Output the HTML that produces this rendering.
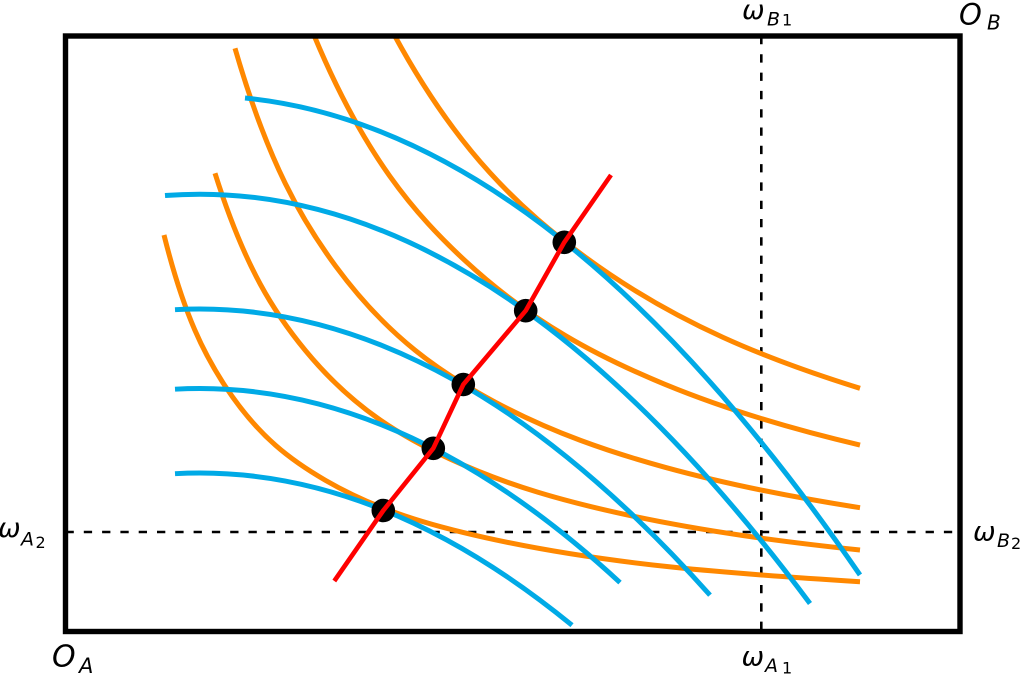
<!DOCTYPE html>
<html>
<head>
<meta charset="utf-8">
<style>
  html, body { margin: 0; padding: 0; background: #ffffff; }
  body { width: 1022px; height: 674px; overflow: hidden; }
  svg { display: block; }
  .it { font-family: "DejaVu Sans", "Liberation Sans", sans-serif; font-style: italic; fill: #000; }
  .rm { font-family: "DejaVu Sans", "Liberation Sans", sans-serif; font-style: normal; fill: #000; }
</style>
</head>
<body>
<svg width="1022" height="674" viewBox="0 0 1022 674" xmlns="http://www.w3.org/2000/svg">
  <rect x="0" y="0" width="1022" height="674" fill="#ffffff"/>

  <!-- dashed reference lines -->
  <line x1="761.3" y1="36" x2="761.3" y2="631.5" stroke="#000" stroke-width="2.6" stroke-dasharray="8.3 10"/>
  <line x1="65.5" y1="532" x2="960" y2="532" stroke="#000" stroke-width="2.6" stroke-dasharray="8.3 10"/>

  <!-- orange indifference curves (A) -->
  <g fill="none" stroke="#FF8800" stroke-width="5">
    <path d="M164,235 C184.5,317.01 205,355.48 225.5,386.66 C258.83,437.35 292.17,461.13 325.5,480.38 C378.83,511.19 432.17,525.83 485.5,537.67 C610.33,565.39 735.17,573.92 860,581.7"/>
    <path d="M215,173.3 C245.17,268.9 275.33,314.13 305.5,350.63 C353.83,409.12 402.17,436.83 450.5,459.2 C508.83,486.19 567.17,501.94 625.5,514.54 C703.67,531.42 781.83,541.74 860,550.03"/>
    <path d="M235,48.3 C268.5,163.93 302,220.42 335.5,265.92 C388.83,338.36 442.17,373.78 495.5,402.3 C552.17,432.6 608.83,451.86 665.5,467.41 C730.33,485.2 795.17,497.58 860,507.71"/>
    <path d="M314.3,36 C364.7,156.63 415.1,214.43 465.5,261.1 C532.17,322.83 598.83,357.13 665.5,384.57 C730.33,411.25 795.17,429.8 860,445.02"/>
    <path d="M394.3,35 C458.03,152.59 521.77,210.6 585.5,257.25 C677,324.22 768.5,359.83 860,388.31"/>
  </g>

  <!-- blue indifference curves (B) -->
  <g fill="none" stroke="#00AAE6" stroke-width="5">
    <path d="M245,98.03 Q552.5,128.47 860,574.96"/>
    <path d="M165,195.55 Q487.5,170.72 810,603.51"/>
    <path d="M175,309.69 Q442.5,294.98 710,595.11"/>
    <path d="M175,389.19 Q397.5,376.95 620,582.54"/>
    <path d="M175,473.69 Q373.5,462.77 572,625.22"/>
  </g>

  <!-- tangency points -->
  <g fill="#000">
    <circle cx="383.3" cy="510.5" r="11.8"/>
    <circle cx="433.3" cy="448.3" r="11.8"/>
    <circle cx="463.3" cy="384.5" r="11.8"/>
    <circle cx="525.7" cy="310.7" r="11.8"/>
    <circle cx="564.3" cy="242.3" r="11.8"/>
  </g>

  <!-- contract curve -->
  <polyline points="334.3,581 383.3,510.5 433.3,448.3 463.3,384.5 525.7,310.7 564.3,242.3 611,175"
            fill="none" stroke="#FF0000" stroke-width="4.6" stroke-linejoin="round"/>

  <!-- Edgeworth box -->
  <rect x="65.5" y="36" width="894.5" height="595.5" fill="none" stroke="#000" stroke-width="5.4"/>

  <!-- labels -->
  <text class="it" x="742" y="19" font-size="27">ω</text>
  <text class="it" x="767" y="25.5" font-size="19">B</text>
  <text class="rm" x="782" y="25.5" font-size="16">1</text>

  <text class="it" x="959" y="24.5" font-size="29">O</text>
  <text class="it" x="987" y="29.5" font-size="20">B</text>

  <text class="it" x="-2" y="537" font-size="27">ω</text>
  <text class="it" x="21" y="545.5" font-size="19">A</text>
  <text class="rm" x="35.5" y="548" font-size="16">2</text>

  <text class="it" x="973" y="540.5" font-size="27">ω</text>
  <text class="it" x="997" y="547" font-size="19">B</text>
  <text class="rm" x="1011" y="549" font-size="16">2</text>

  <text class="it" x="52" y="666.5" font-size="30">O</text>
  <text class="it" x="79" y="673" font-size="21">A</text>

  <text class="it" x="741.5" y="665.5" font-size="27">ω</text>
  <text class="it" x="765" y="672" font-size="19">A</text>
  <text class="rm" x="782" y="673.5" font-size="16">1</text>
</svg>
</body>
</html>
